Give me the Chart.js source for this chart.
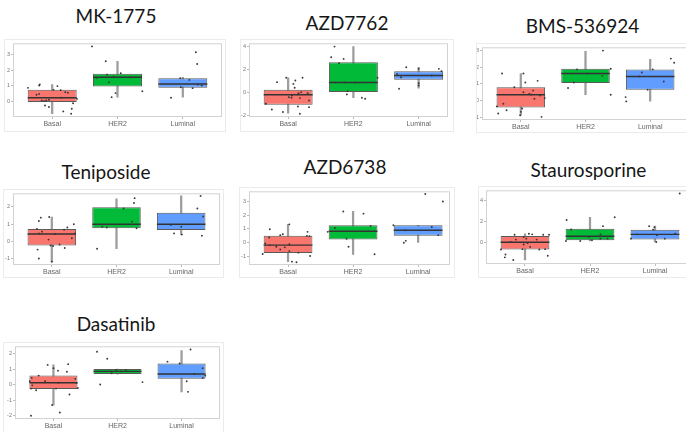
<!DOCTYPE html>
<html>
<head>
<meta charset="utf-8">
<script src="https://cdn.jsdelivr.net/npm/chart.js@4.4.1/dist/chart.umd.min.js"></script>
<style>
    html, body { margin: 0; padding: 0; background: #fff; }
    #fig { position: relative; width: 686px; height: 432px; overflow: hidden; }
    .panel { position: absolute; }
    .panel canvas { display: block; }
    .title {
        position: absolute;
        font-family: Lato, 'Open Sans', sans-serif;
        font-size: 19px;
        line-height: 19px;
        color: #161616;
        white-space: nowrap;
        transform: translateX(-50%);
    }
</style>
</head>
<body>
<div id="fig"></div>
<script>
const groups = ['Basal', 'HER2', 'Luminal']
const groupColors = ['#F8766D', '#00BA38', '#619CFF']

// box stats per group: [lower whisker, q1, median, q3, upper whisker]
// points: [group index + jitter, value]

// MK-1775
const mk1775Box = [[-0.79, -0.04, 0.24, 0.75, 1.09], [0.28, 0.96, 1.56, 1.78, 2.59], [0.28, 0.88, 1.13, 1.5, 1.55]]
const mk1775Pts = [
    [-0.37, 0.88], [-0.2, 1.03], [-0.19, 1.09], [-0.24, 0.43], [-0.2, 0.49], [0.02, 0.75], [0.08, 0.99], [0.13, 0.73],
    [0.2, 0.6], [0.24, 0.56], [-0.16, 0.06], [-0.12, 0.02], [-0.09, 0.06], [-0.05, 0.11], [-0.11, -0.26], [-0.05, -0.36],
    [0.14, 0.24], [0.17, -0.64], [0.3, -0.47], [0.29, -0.79], [0.32, -0.11], [0.38, 0.17],
    [0.61, 3.55], [0.82, 2.59], [0.84, 1.73], [0.68, 1.52], [0.87, 1.24], [0.94, 1.6], [1.05, 1.82], [1.2, 1.56],
    [0.97, 0.54], [0.91, 0.28], [1.38, 0.66],
    [1.96, 1.5], [2.1, 1.39], [2.2, 3.17], [2.22, 2.42], [1.97, 0.92], [2.15, 0.86], [2.23, 1.09], [1.82, 0.24], [2.29, 1.03]
]
const mk1775Ticks = [0, 1, 2, 3]

// AZD7762
const azd7762Box = [[-1.8, -1.07, -0.2, 0.23, 1.28], [-0.46, 0, 0.87, 2.64, 4.0], [0.38, 1.1, 1.48, 1.86, 2.2]]
const azd7762Pts = [
    [-0.17, 0.9], [-0.03, 1.28], [0.08, 0.75], [0.11, 1.04], [0.1, 0.41], [0.22, 1.28], [0.06, -0.26], [0.05, -0.46],
    [0.15, -0.17], [0.18, -0.49], [0.2, 0.03], [0.3, -0.06], [0.32, -0.7], [-0.34, -0.99], [-0.25, -1.48], [-0.08, -1.71],
    [0.15, -1.22], [0.18, -1.86], [0.32, -1.28], [0.16, -0.06], [0.01, -0.41],
    [0.71, 4.0], [0.66, 3.07], [0.85, 2.93], [0.78, 2.55], [0.72, 0.87], [0.87, 0.87], [1.03, 0.87], [1.37, 1.28],
    [0.91, 0.12], [0.9, -0.17], [1.13, -0.46], [1.18, -0.55],
    [1.81, 2.2], [2.0, 2.06], [2.31, 2.06], [2.35, 1.86], [1.67, 1.62], [1.73, 1.33], [2.2, 1.48], [2.0, 0.81],
    [2.0, 0.61], [1.7, 0.32]
]
const azd7762Ticks = [-2, 0, 2, 4]

// BMS-536924
const bms536924Box = [[-0.89, -0.43, 0.34, 0.79, 1.62], [0.34, 1.05, 1.62, 1.91, 2.96], [-0.04, 0.65, 1.44, 1.87, 2.47]]
const bms536924Pts = [
    [-0.29, 1.62], [0.04, 1.62], [0.26, 1.18], [0.07, 1.08], [-0.1, 0.79], [0.04, 0.49], [0.19, 0.59], [0.13, 0.39],
    [0.16, 0.36], [0.3, 0.3], [0.21, 0.1], [0.37, 0.14], [-0.27, -0.2], [-0.37, -0.36], [-0.22, -0.59], [0.02, -0.49],
    [0.0, -0.69], [-0.01, -0.89], [-0.35, -0.79], [0.32, -0.99],
    [1.27, 3.0], [0.87, 1.87], [1.03, 1.62], [1.26, 1.48], [1.39, 1.91], [0.82, 1.08], [0.73, 0.75], [1.39, 0.34],
    [1.87, 1.68], [2.04, 1.87], [1.83, 1.44], [2.21, 1.14], [1.96, 0.65], [2.32, 2.52], [2.37, 2.27], [1.62, 0.2], [1.63, -0.06]
]
const bms536924Ticks = [-1, 0, 1, 2, 3]

// Teniposide
const teniposideBox = [[-1.17, -0.23, 0.43, 0.72, 1.42], [-0.42, 0.77, 1.0, 1.98, 2.47], [0.4, 0.66, 1.0, 1.66, 2.64]]
const teniposidePts = [
    [-0.17, 1.38], [-0.2, 1.19], [-0.04, 1.42], [0.34, 1.0], [-0.23, 0.72], [-0.15, 0.57], [-0.2, 0.47], [0.19, 0.68],
    [0.24, 0.81], [0.36, 0.47], [0.05, 0.43], [-0.05, 0.11], [0.31, 0.19], [-0.02, -0.23], [0.02, -0.26], [0.12, -0.17],
    [-0.22, -0.47], [0.2, -0.38], [-0.2, -0.98], [0, -1.17],
    [1.28, 2.51], [1.27, 2.23], [1.11, 1.91], [1.24, 1.15], [0.78, 0.85], [0.85, 0.81], [1.31, 0.77], [0.7, -0.42],
    [2.3, 2.64], [2.25, 1.91], [2.34, 1.45], [1.84, 0.96], [2.0, 0.85], [1.89, 0.47], [2.01, 0.4], [2.32, 0.34]
]
const teniposideTicks = [-1, 0, 1, 2]

// AZD6738
const azd6738Box = [[-1.36, -0.74, -0.17, 0.5, 1.33], [-0.83, 0.24, 0.83, 1.26, 2.26], [0.02, 0.5, 0.9, 1.26, 1.26]]
const azd6738Pts = [
    [-0.28, 0.98], [0.02, 1.33], [-0.29, 0.38], [-0.12, 0.55], [-0.08, 0.62], [0.3, 0.79], [0.29, 0.5], [0.33, 0.48],
    [-0.35, -0.05], [-0.28, -0.17], [0.02, -0.1], [-0.12, -0.48], [-0.05, -0.33], [-0.18, -0.29], [0.02, -0.6], [0.16, -0.71],
    [-0.39, -0.81], [0.34, -0.95], [0.06, -1.36], [0.13, -1.4],
    [0.85, 2.26], [1.16, 2.1], [1.27, 1.21], [0.72, 1.07], [0.61, 0.79], [0.9, 0.29], [0.93, -0.29], [1.33, -0.83],
    [2.11, 3.52], [2.38, 2.98], [1.8, 0.9], [2.21, 1.14], [2.31, 0.55], [1.81, 0.14], [1.78, 0], [1.62, 1.26]
]
const azd6738Ticks = [-1, 0, 1, 2, 3]

// Staurosporine
const staurosporineBox = [[-1.6, -0.62, 0.06, 0.65, 0.86], [0.18, 0.25, 0.62, 1.32, 2.4], [0.09, 0.31, 0.8, 1.23, 1.57]]
const staurosporinePts = [
    [-0.16, 0.77], [0.06, 0.86], [0.11, 0.8], [0.28, 0.77], [0.37, 0.77], [-0.02, 0.55], [0.02, 0.4], [0.18, 0.31],
    [-0.14, 0.31], [-0.22, 0.09], [0.04, 0], [-0.02, -0.15], [0.08, -0.37], [-0.04, -0.58], [0.22, -0.62], [0.31, -0.58],
    [-0.37, -0.62], [-0.3, -1.08], [-0.31, -1.35], [-0.18, -1.6], [0.35, -1.2],
    [0.64, 2.15], [1.38, 2.4], [0.71, 1.26], [1.2, 1.57], [1.16, 0.8], [1.16, 0.4], [0.98, 0.55], [0.85, 0.18],
    [1.03, 0.25], [0.63, 0.18], [1.27, 0.4],
    [2.38, 4.62], [1.91, 1.57], [1.99, 1.48], [1.97, 1.23], [1.72, 0.8], [2.03, 0.71], [2.31, 0.86], [2.15, 0.4],
    [2.02, 0.09], [1.63, 0.4]
]
const staurosporineTicks = [0, 2, 4]

// Dasatinib
const dasatinibBox = [[-1.31, -0.27, 0.13, 0.59, 1.28], [0.69, 0.69, 0.86, 1.01, 1.01], [-0.46, 0.38, 0.69, 1.37, 2.21]]
const dasatinibPts = [
    [-0.35, -2.0], [-0.09, 1.28], [0, 1.07], [0.23, 1.33], [0.07, 0.91], [0.21, 0.84], [-0.23, 0.59], [-0.34, 0.44],
    [0.34, 0.38], [-0.13, 0.23], [-0.37, 0.23], [0.08, 0.13], [0.36, 0.11], [-0.33, -0.04], [-0.35, -0.25], [-0.27, -0.36],
    [0.04, -0.25], [0.38, -0.21], [0.25, -0.63], [-0.02, -1.31], [0.1, -1.79],
    [0.68, 2.13], [0.84, 1.68], [0.9, 0.86], [0.98, 0.95], [1.05, 0.86], [0.91, 0.74], [0.73, 0.02], [1.39, 0.17], [1.13, 0.95],
    [2.14, 2.27], [1.78, 1.49], [1.97, 1.37], [2.33, 1.07], [2.2, 0.69], [2.37, 0.59], [2.33, 0.44], [2.08, 0.23], [2.1, -0.46]
]
const dasatinibTicks = [-2, -1, 0, 1, 2]

// ============================================
// LAYOUT (frame = outer box, plot = inner panel edges l, t, r, b)
// ============================================
const panels = [
    { title: 'MK-1775', box: mk1775Box, pts: mk1775Pts, ticks: mk1775Ticks, yMin: -1.0, yMax: 3.75, xMax: 2.6,
      frame: [4, 39, 222, 93], plot: [13, 43, 222, 117], titleAt: [116, 15.5] },
    { title: 'AZD7762', box: azd7762Box, pts: azd7762Pts, ticks: azd7762Ticks, yMin: -2.14, yMax: 4.29, xMax: 2.45,
      frame: [240, 39, 214, 93], plot: [249, 43, 448, 117], titleAt: [347, 22.7] },
    { title: 'BMS-536924', box: bms536924Box, pts: bms536924Pts, ticks: bms536924Ticks, yMin: -1.18, yMax: 3.2, xMax: 2.6,
      frame: [476, 43, 220, 90], plot: [482, 46, 689, 120], titleAt: [582.5, 26.3] },
    { title: 'Teniposide', box: teniposideBox, pts: teniposidePts, ticks: teniposideTicks, yMin: -1.36, yMax: 2.79, xMax: 2.6,
      frame: [3, 189, 221, 89], plot: [13, 192, 220, 265], titleAt: [106, 171.7] },
    { title: 'AZD6738', box: azd6738Box, pts: azd6738Pts, ticks: azd6738Ticks, yMin: -1.6, yMax: 3.71, xMax: 2.49,
      frame: [239, 187, 216, 91], plot: [249, 191, 450, 265], titleAt: [345, 166.7] },
    { title: 'Staurosporine', box: staurosporineBox, pts: staurosporinePts, ticks: staurosporineTicks, yMin: -1.97, yMax: 4.92, xMax: 2.6,
      frame: [478, 186, 222, 92], plot: [486, 189, 694, 264], titleAt: [588.5, 170] },
    { title: 'Dasatinib', box: dasatinibBox, pts: dasatinibPts, ticks: dasatinibTicks, yMin: -2.21, yMax: 2.48, xMax: 2.6,
      frame: [3, 342, 221, 92], plot: [15, 345, 222, 419], titleAt: [116, 323.7] }
]

// ============================================
// PLUGINS
// ============================================
const medianPlugin = {
    id: 'median',
    afterDatasetDraw(chart, args) {
        const ds = chart.data.datasets[args.index]
        if (!ds.medians) return
        const ctx = chart.ctx
        const y = chart.scales.y
        ctx.save()
        ctx.strokeStyle = '#333'
        ctx.lineWidth = 1.4
        args.meta.data.forEach((bar, i) => {
            const { x, width } = bar.getProps(['x', 'width'], true)
            const py = y.getPixelForValue(ds.medians[i])
            ctx.beginPath()
            ctx.moveTo(x - width / 2, py)
            ctx.lineTo(x + width / 2, py)
            ctx.stroke()
        })
        ctx.restore()
    }
}

const framePlugin = {
    id: 'frame',
    afterDraw(chart) {
        const { ctx, chartArea: a, width, height } = chart
        ctx.save()
        ctx.lineWidth = 1
        ctx.strokeStyle = '#ebebeb'
        ctx.strokeRect(0.5, 0.5, width - 1, height - 1)
        ctx.strokeStyle = '#d2d2d2'
        ctx.strokeRect(a.left + 0.5, a.top + 0.5, a.width - 1, a.height - 1)
        ctx.restore()
    }
}

// ============================================
// RENDER
// ============================================
function makePanel(p) {
    const fig = document.getElementById('fig')
    const [fx, fy, fw, fh] = p.frame
    const [pl, pt, pr, pb] = p.plot

    const title = document.createElement('div')
    title.className = 'title'
    title.textContent = p.title
    title.style.left = p.titleAt[0] + 'px'
    title.style.top = (p.titleAt[1] - 10) + 'px'
    fig.appendChild(title)

    const wrap = document.createElement('div')
    wrap.className = 'panel'
    wrap.style.left = fx + 'px'
    wrap.style.top = fy + 'px'
    const canvas = document.createElement('canvas')
    canvas.width = fw
    canvas.height = fh
    wrap.appendChild(canvas)
    fig.appendChild(wrap)

    const tickGrid = { drawOnChartArea: false, offset: false, tickLength: 2, color: '#aaa', lineWidth: 0.8 }

    new Chart(canvas, {
        type: 'bar',
        data: {
            datasets: [
                {
                    type: 'scatter',
                    data: p.pts.map(([x, y]) => ({ x, y })),
                    pointRadius: 0.95,
                    pointBackgroundColor: '#383838',
                    pointBorderWidth: 0,
                    order: 1
                },
                {
                    data: p.box.map((b, i) => ({ x: i, y: [b[1], b[3]] })),
                    medians: p.box.map(b => b[2]),
                    backgroundColor: groupColors,
                    borderColor: '#5a5a5a',
                    borderWidth: 1,
                    borderSkipped: false,
                    grouped: false,
                    barPercentage: 0.75,
                    categoryPercentage: 1,
                    order: 2
                },
                {
                    data: p.box.map((b, i) => ({ x: i, y: [b[0], b[4]] })),
                    backgroundColor: '#9d9d9d',
                    borderWidth: 0,
                    grouped: false,
                    barThickness: 1.6,
                    order: 3
                }
            ]
        },
        options: {
            responsive: false,
            animation: false,
            devicePixelRatio: 1,
            layout: { padding: { left: 0, top: pt - fy, right: fx + fw - pr, bottom: 0 } },
            plugins: { legend: { display: false }, tooltip: { enabled: false } },
            scales: {
                x: {
                    type: 'linear',
                    min: -0.6,
                    max: p.xMax,
                    offset: false,
                    afterBuildTicks: s => { s.ticks = groups.map((g, i) => ({ value: i })) },
                    afterFit: s => { s.height = fy + fh - pb },
                    ticks: {
                        callback: v => groups[v],
                        font: { family: 'Liberation Sans', size: 7 },
                        color: '#666',
                        padding: 1,
                        maxRotation: 0,
                        autoSkip: false
                    },
                    grid: tickGrid,
                    border: { display: false }
                },
                y: {
                    type: 'linear',
                    min: p.yMin,
                    max: p.yMax,
                    afterBuildTicks: s => { s.ticks = p.ticks.map(v => ({ value: v })) },
                    afterFit: s => { s.width = pl - fx },
                    ticks: {
                        font: { family: 'Liberation Sans', size: 5.5 },
                        color: '#777',
                        padding: 1
                    },
                    grid: tickGrid,
                    border: { display: false }
                }
            }
        },
        plugins: [medianPlugin, framePlugin]
    })
}

panels.forEach(makePanel)
</script>
</body>
</html>
